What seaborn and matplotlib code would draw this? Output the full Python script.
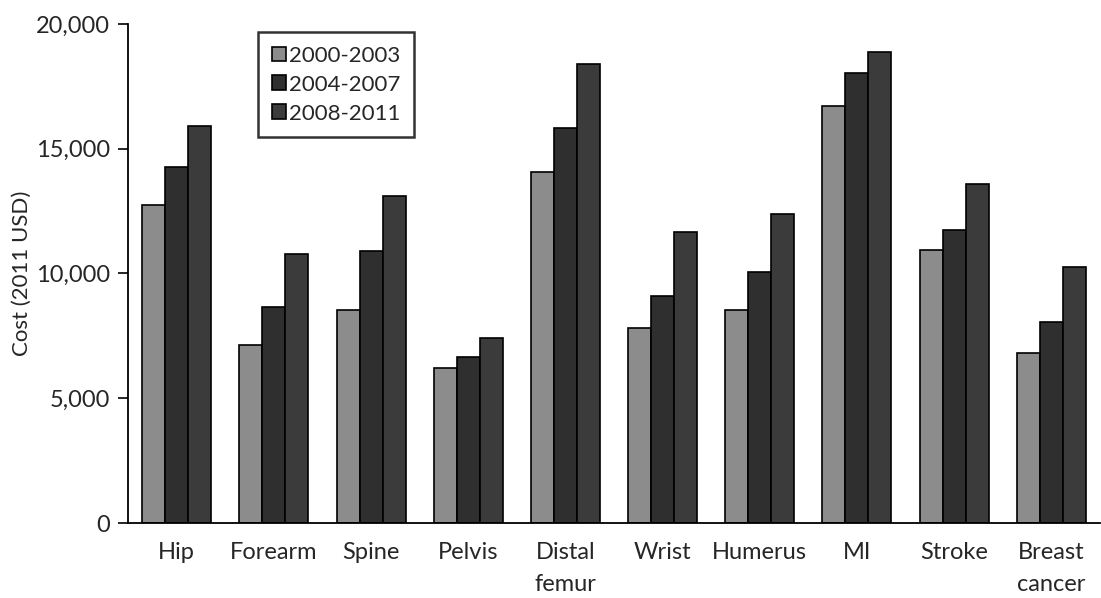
import numpy as np
import pandas as pd
import matplotlib
matplotlib.use('Agg')
import matplotlib.pyplot as plt
import seaborn as sns
from matplotlib.ticker import FuncFormatter, FixedLocator

categories = ['Hip', 'Forearm', 'Spine', 'Pelvis', 'Distal\nfemur', 'Wrist',
              'Humerus', 'MI', 'Stroke', 'Breast\ncancer']
periods = ['2000-2003', '2004-2007', '2008-2011']
cost_2000_2003 = [12750, 7150, 8550, 6200, 14050, 7800, 8550, 16700, 10950, 6800]
cost_2004_2007 = [14250, 8650, 10900, 6650, 15850, 9100, 10050, 18050, 11750, 8050]
cost_2008_2011 = [15900, 10780, 13100, 7400, 18400, 11650, 12400, 18880, 13600, 10280]

df = pd.DataFrame({
    'category': categories * 3,
    'period': np.repeat(periods, len(categories)),
    'cost': cost_2000_2003 + cost_2004_2007 + cost_2008_2011,
})

sns.set_style('white')
plt.rcParams['font.family'] = ['Lato', 'DejaVu Sans']

fig = plt.figure(figsize=(11.01, 5.98), dpi=100)
ax = fig.add_axes([0.1163, 0.1254, 0.8827, 0.8345])

palette = ['#8c8c8c', '#2f2f2f', '#3b3b3b']
sns.barplot(data=df, x='category', y='cost', hue='period', hue_order=periods,
            order=categories, palette=palette, width=0.71, edgecolor='black',
            linewidth=1.2, saturation=1, ax=ax)

ax.set_ylim(0, 20000)
ax.set_xlim(-0.5, 9.5)
ax.set_yticks([0, 5000, 10000, 15000, 20000])
ax.yaxis.set_major_formatter(FuncFormatter(lambda v, p: f'{int(v):,}'))
ax.set_ylabel('Cost (2011 USD)', fontsize=16, labelpad=3)
ax.set_xlabel('')

ax.set_xticks(range(len(categories)))
ax.set_xticklabels(categories, linespacing=1.6)
ax.xaxis.set_minor_locator(FixedLocator(np.arange(0.5, 9.5, 1.0)))
ax.tick_params(axis='x', which='major', length=0, labelsize=17, pad=14)
ax.tick_params(axis='x', which='minor', length=7, width=1.2, direction='out', color='black')
ax.tick_params(axis='y', which='major', length=7, width=1.2, direction='out',
               labelsize=17, color='black', left=True, pad=6)

for s in ['top', 'right']:
    ax.spines[s].set_visible(False)
for s in ['left', 'bottom']:
    ax.spines[s].set_color('black')
    ax.spines[s].set_linewidth(1.3)

leg = ax.legend(loc='upper left', bbox_to_anchor=(0.134, 0.983), fontsize=16,
                frameon=True, fancybox=False, edgecolor='black',
                handlelength=0.65, handleheight=0.65, handletextpad=0.15,
                labelspacing=0.4, borderpad=0.6, borderaxespad=0)
leg.get_frame().set_linewidth(1.8)

fig.savefig('out.png', dpi=100)
